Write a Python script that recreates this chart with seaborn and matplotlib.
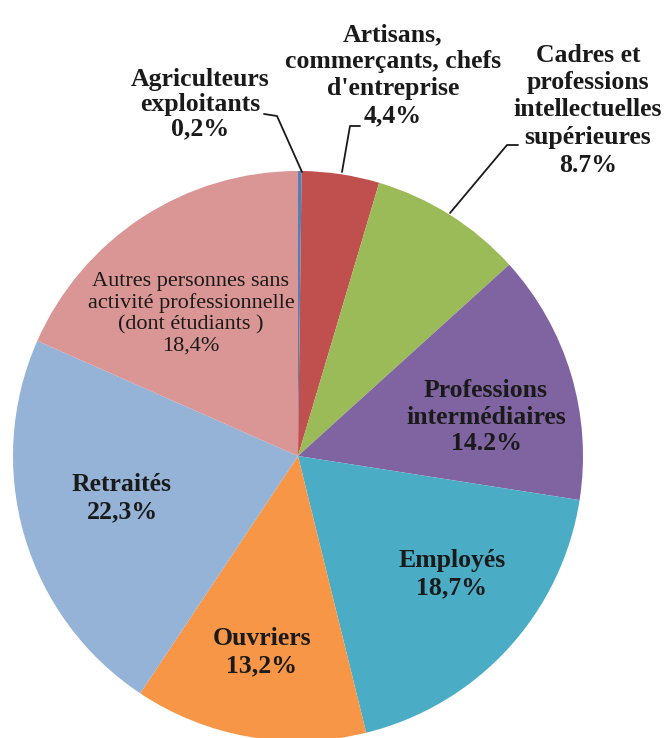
import matplotlib
matplotlib.use("Agg")
import matplotlib.pyplot as plt
import seaborn as sns

# data (clockwise from 12 o'clock)
categories = [
    "Agriculteurs\nexploitants",
    "Artisans,\ncommerçants, chefs\nd'entreprise",
    "Cadres et\nprofessions\nintellectuelles\nsupérieures",
    "Professions\nintermédiaires",
    "Employés",
    "Ouvriers",
    "Retraités",
    "Autres personnes sans\nactivité professionnelle\n(dont étudiants )",
]
shares = [0.2, 4.4, 8.7, 14.2, 18.7, 13.2, 22.3, 18.4]
pct_labels = ["0,2%", "4,4%", "8.7%", "14.2%", "18,7%", "13,2%", "22,3%", "18,4%"]
colors = ["#4F81BD", "#C0504D", "#9BBB59", "#8064A2",
          "#4BACC6", "#F79646", "#95B3D7", "#D99694"]

sns.set_theme(style="white")
plt.rcParams["font.family"] = ["Liberation Serif", "DejaVu Serif"]

W, H = 664, 738
fig = plt.figure(figsize=(W / 100, H / 100), dpi=100)
ax = fig.add_axes([0, 0, 1, 1])

cx, cy, r = 298, H - 456, 285
wedges, _ = ax.pie(shares, colors=sns.color_palette(colors), startangle=90,
                   counterclock=False, center=(cx, cy), radius=r,
                   wedgeprops=dict(linewidth=0))
ax.set_xlim(0, W)
ax.set_ylim(0, H)
ax.set_aspect("equal")
ax.axis("off")

txt = dict(fontsize=18.5, fontweight="bold", color="#1a1a1a",
           ha="center", va="center")

# outside labels with leader lines (pixel coords of the reference, y down)
outside = {
    0: ((200, 104), 1.08, [(264, 114), (277, 116), (302, 172)]),
    1: ((393, 75), 1.22, [(360, 126), (350, 126), (342, 172)]),
    2: ((588, 110), 1.25, [(518, 145), (507, 145), (450, 213)]),
}
for i, ((x, y), ls, path) in outside.items():
    ax.text(x, H - y, categories[i] + "\n" + pct_labels[i],
            linespacing=ls, **txt)
    ax.plot([p[0] for p in path], [H - p[1] for p in path],
            color="#1a1a1a", lw=1.3)

# inside labels
inside = {3: (486, 417), 4: (452, 574), 5: (262, 652), 6: (122, 498)}
for i, (x, y) in inside.items():
    ax.text(x, H - y, categories[i] + "\n" + pct_labels[i],
            linespacing=1.22, **txt)

ax.text(191, H - 314, categories[7] + "\n" + pct_labels[7],
        fontsize=16, color="#1a1a1a", ha="center", va="center",
        linespacing=1.15)

fig.savefig("out.png", dpi=100)
